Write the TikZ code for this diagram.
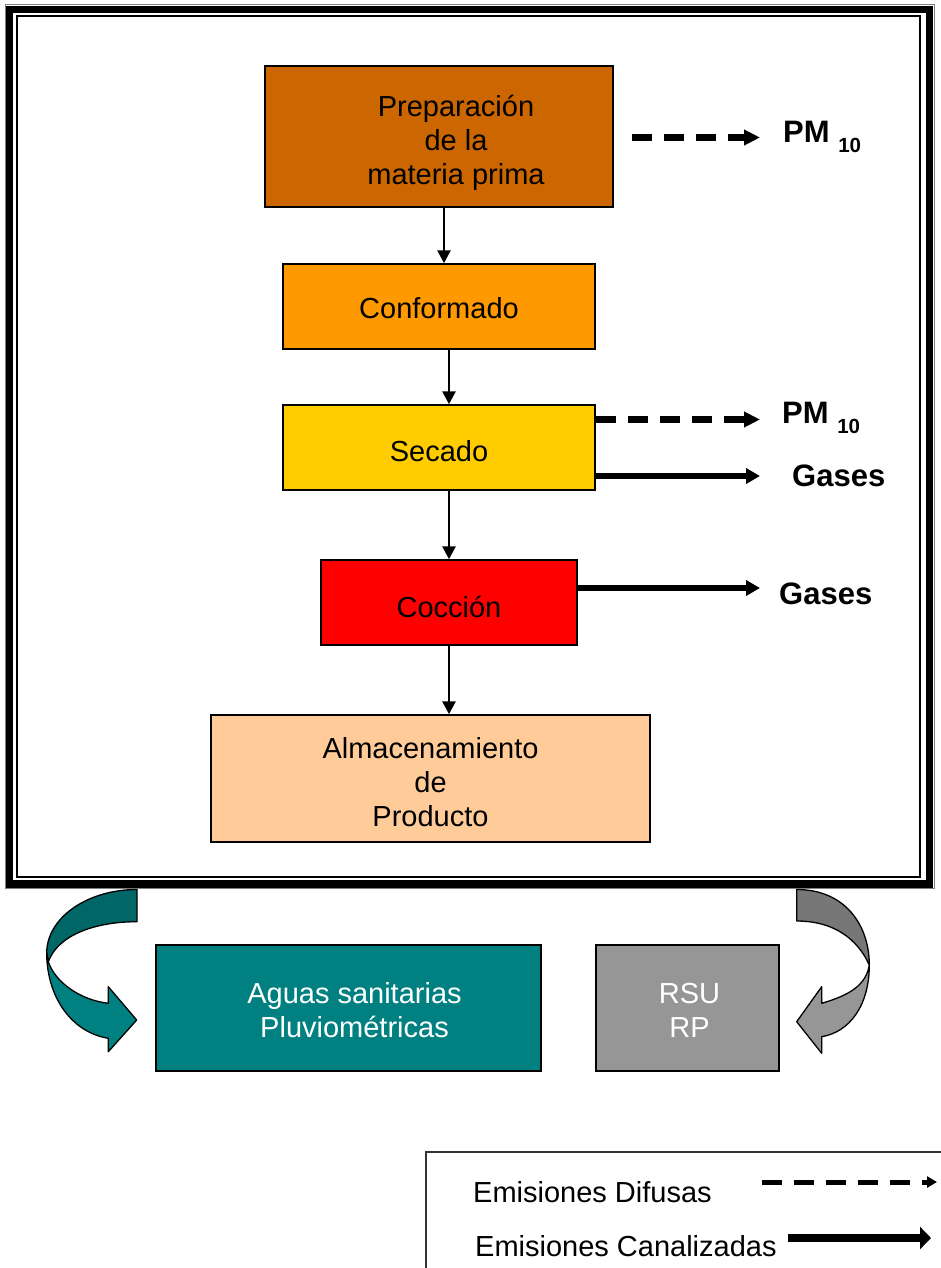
\documentclass[tikz,border=0pt]{standalone}
\usepackage{fontspec}
\setmainfont{Liberation Sans}
\usetikzlibrary{arrows.meta}

\definecolor{prepcol}{HTML}{CC6600}
\definecolor{confcol}{HTML}{FF9900}
\definecolor{seccol}{HTML}{FFCC00}
\definecolor{coccol}{HTML}{FF0000}
\definecolor{almcol}{HTML}{FFCC99}
\definecolor{aguacol}{HTML}{008080}
\definecolor{aguadark}{HTML}{006666}
\definecolor{rsucol}{HTML}{969696}
\definecolor{rsudark}{HTML}{777777}

\begin{document}
\begin{tikzpicture}[
			x=1pt, y=-1pt,
			every node/.style = {font=\fontsize{29}{34}\selectfont},
			stage/.style = {draw, line width=1.5pt, inner sep=0pt, align=center},
			inside/.style = {yshift=-4pt, align=center},
			flow/.style = {line width=2.8pt, -{Triangle[length=13pt, width=13pt]}},
			diffuse/.style = {line width=7pt, dash pattern=on 20pt off 12pt, -{Triangle[length=16pt, width=15pt]}},
			canal/.style = {line width=5.5pt, -{Triangle[length=14pt, width=15pt]}},
			outlabel/.style = {font=\fontsize{31}{31}\selectfont\bfseries, inner sep=0pt, anchor=base west},
			ribbon/.style = {draw=black, line width=1.3pt, line join=round}
		]
		\useasboundingbox (0,0) rectangle (940,1268);
		% Frame.
		\draw[gray, line width=1pt] (5,5) rectangle (934.5,888.5);
		\draw[line width=7.5pt] (9.5,9.5) rectangle (929.5,884);
		\draw[line width=2pt] (16.5,16.5) rectangle (920,877);
		% Process.
		\node[stage, fill=prepcol, minimum width=348pt, minimum height=141pt,
			label={[inside, xshift=17pt, yshift=-2pt]center:Preparación\\de la\\materia prima}] (prep) at (439,136.5) {};
		\node[stage, fill=confcol, minimum width=312pt, minimum height=85pt,
			label={[inside, yshift=2pt]center:Conformado}] (conf) at (439,306.5) {};
		\node[stage, fill=seccol, minimum width=312pt, minimum height=85pt,
			label={[inside]center:Secado}] (secado) at (439,447.5) {};
		\node[stage, fill=coccol, minimum width=256pt, minimum height=85pt,
			label={[inside]center:Cocción}] (coccion) at (449,602.5) {};
		\node[stage, fill=almcol, minimum width=439pt, minimum height=127pt,
			label={[inside]center:Almacenamiento\\de\\Producto}] (alm) at (430.5,778.5) {};
		% Residues.
		\node[stage, fill=aguacol, text=white, minimum width=385pt, minimum height=126pt,
			label={[inside, text=white, xshift=6pt, yshift=2pt]center:Aguas sanitarias\\Pluviométricas}] (aguas) at (348.5,1008) {};
		\node[stage, fill=rsucol, text=white, minimum width=183pt, minimum height=126pt,
			label={[inside, text=white, xshift=2pt, yshift=2pt]center:RSU\\RP}] (rsu) at (687.5,1008) {};
		% Emissions.
		\node[outlabel] (pm1) at (783,143) {PM {\fontsize{20.5}{20.5}\selectfont\raisebox{-10pt}{10}}};
		\node[outlabel] (pm2) at (782,423) {PM {\fontsize{20.5}{20.5}\selectfont\raisebox{-10pt}{10}}};
		\node[outlabel] (gas1) at (792,486) {Gases};
		\node[outlabel] (gas2) at (779,604) {Gases};
		\coordinate (pm1start) at (632,137.5);
		\coordinate (pm1tip) at (760,137.5);
		\coordinate (pm2tip) at (760,419.5);
		\coordinate (gas1tip) at (760,476);
		\coordinate (gas2tip) at (760,588);

		\draw[flow] ([xshift=5pt]prep.south) -- ([xshift=5pt]conf.north);
		\draw[flow] ([xshift=10pt]conf.south) -- ([xshift=10pt]secado.north);
		\draw[flow] (secado.south -| coccion.north) -- (coccion.north);
		\draw[flow] (coccion.south) -- (coccion.south |- alm.north);
		\draw[diffuse] (pm1start) -- (pm1tip);
		\draw[diffuse] (secado.east |- pm2tip) -- (pm2tip);
		\draw[canal] (secado.east |- gas1tip) -- (gas1tip);
		\draw[canal] (coccion.east |- gas2tip) -- (gas2tip);
		% Curved arrows.
		\filldraw[ribbon, fill=aguadark] (137,889.5) .. controls (87,889.5) and (46.7,918) .. (46.7,953)
			-- (48.3,961.7) .. controls (58,935) and (95,921.7) .. (137,921.7) -- cycle;
		\filldraw[ribbon, fill=aguacol] (46.7,953) .. controls (46.7,995) and (70,1032) .. (108.3,1038.3)
			-- (108.3,1051.7) -- (136.7,1020) -- (108.3,986.7) -- (108.3,1003.3)
			.. controls (80,1000) and (55,982) .. (48.3,961.7) -- cycle;
		\filldraw[ribbon, fill=rsudark] (796.7,889.5) .. controls (845,889.5) and (869.3,925) .. (869.3,965)
			.. controls (858,940) and (835,921) .. (796.7,921) -- cycle;
		\filldraw[ribbon, fill=rsucol] (869.3,965) .. controls (869.3,1005) and (850,1032) .. (821.7,1036.7)
			-- (821.7,1053.3) -- (796.7,1021.7) -- (821.7,986.7) -- (821.7,1003.3)
			.. controls (850,995) and (866,985) .. (869.3,965) -- cycle;
		% Legend.
		\draw[line width=1.3pt, black!80] (426,1152) rectangle (960,1290);
		\node[anchor=west, inner sep=0pt] (difusas) at (473,1192) {Emisiones Difusas};
		\node[anchor=west, inner sep=0pt] (canalizadas) at (475,1246) {Emisiones Canalizadas};
		\coordinate (difstart) at (762,1182);
		\coordinate (diftip) at (937,1182);
		\coordinate (canstart) at (788,1238);
		\coordinate (cantip) at (931,1238);
		\draw[diffuse, line width=5pt, -{Triangle[length=10pt, width=11pt]}] (difstart) -- (diftip);
		\draw[line width=8pt, -{Triangle[length=11pt, width=22pt]}] (canstart) -- (cantip);
	\end{tikzpicture}
\end{document}
